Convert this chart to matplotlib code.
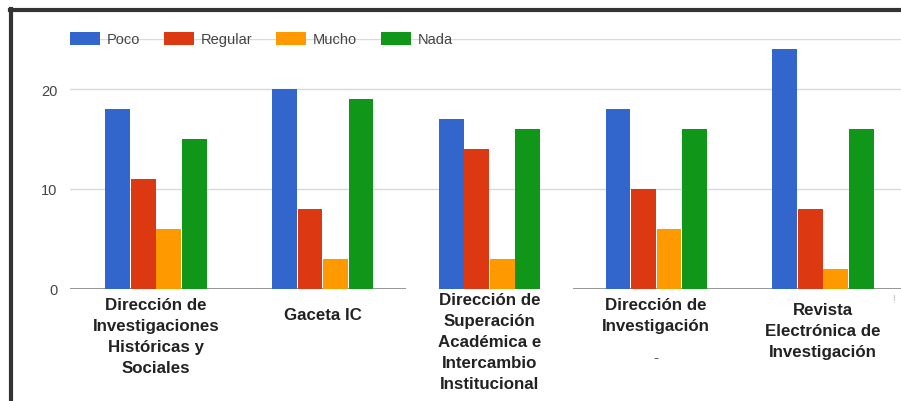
import matplotlib.pyplot as plt
import numpy as np
from matplotlib.lines import Line2D
from matplotlib.patches import Patch

categories = [
    "Dirección de\nInvestigaciones\nHistóricas y\nSociales",
    "Gaceta IC",
    "Dirección de\nSuperación\nAcadémica e\nIntercambio\nInstitucional",
    "Dirección de\nInvestigación",
    "Revista\nElectrónica de\nInvestigación",
]
series = ["Poco", "Regular", "Mucho", "Nada"]
poco = [18, 20, 17, 18, 24]
regular = [11, 8, 14, 10, 8]
mucho = [6, 3, 3, 6, 2]
nada = [15, 19, 16, 16, 16]
yticks = [0, 10, 20]

colors = ["#3366cc", "#dc3912", "#ff9900", "#109618"]
values = [poco, regular, mucho, nada]

plt.rcParams['font.family'] = ['Liberation Sans', 'DejaVu Sans']

fig = plt.figure(figsize=(9.01, 4.02), dpi=100)
ax = fig.add_axes([70 / 901, 112 / 402, 831 / 901, 250 / 402])

x = np.arange(len(categories))
w = 0.153
for i, (name, vals) in enumerate(zip(series, values)):
    ax.bar(x + (i - 1.5) * w, vals, width=w * 0.97, color=colors[i], zorder=3)

ax.set_xlim(-0.516, 4.468)
ax.set_ylim(0, 25)
ax.set_yticks(yticks)
ax.set_yticklabels([str(t) for t in yticks], color="#444444", fontsize=10.5)
for g in [10, 20, 25]:
    ax.axhline(g, color="#d9d9d9", lw=1, zorder=1)
ax.axhline(0, color="#777777", lw=1.8, zorder=1.5)
ax.tick_params(axis="y", length=0, pad=9)
ax.tick_params(axis="x", length=0)
ax.set_xticks([])
for s in ax.spines.values():
    s.set_visible(False)

# category labels below the baseline (uneven, as in the pasted screenshot)
offsets = [-0.85, -1.8, -0.3, -0.8, -1.3]
for i, lab in enumerate(categories):
    kw = {}
    if i == 2:
        kw["bbox"] = dict(facecolor="white", edgecolor="none", pad=23)
    ax.text(x[i], offsets[i], lab, ha="center", va="top", fontsize=12.2,
            fontweight="bold", color="#222222", linespacing=1.5, zorder=2, **kw)
ax.text(x[3], -6.8, "-", ha="center", va="center", fontsize=11, color="#555555")
fig.text(893 / 901, 1 - 300 / 402, "!", ha="center", va="center", fontsize=7, color="#bbbbbb")

handles = [Patch(facecolor=c, edgecolor="none") for c in colors]
ax.legend(handles, series, loc="center left", bbox_to_anchor=(0.0, 1.0),
          ncol=4, frameon=False, fontsize=10.5, handlelength=2.05, handleheight=1.0,
          columnspacing=1.6, handletextpad=0.5, borderpad=0, borderaxespad=0,
          labelcolor="#444444")

# dark frame of the screenshot
fig.add_artist(Line2D([10 / 901, 1], [1 - 11 / 402] * 2, color="#333333", lw=3))
fig.add_artist(Line2D([11 / 901] * 2, [0, 1 - 10 / 402], color="#333333", lw=3))

fig.savefig("out.png", dpi=100)
